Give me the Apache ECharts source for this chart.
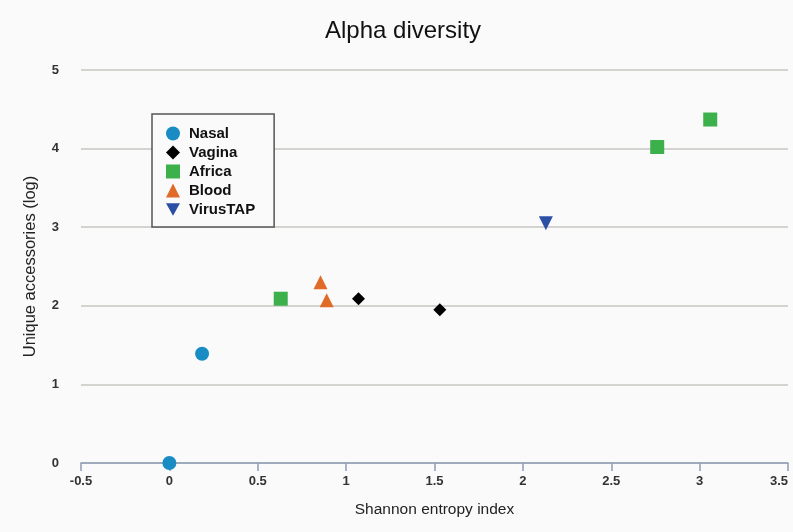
<!DOCTYPE html>
<html>
<head>
<meta charset="utf-8">
<script src="https://cdn.jsdelivr.net/npm/echarts@6/dist/echarts.min.js"></script>
<style>
  html, body { margin: 0; padding: 0; background: #fafafa; }
  #chart { width: 793px; height: 532px; }
</style>
</head>
<body>
<div id="chart"></div>
<script>
// Shannon entropy index (x) vs. unique accessories in log scale (y), per sample group
const nasal    = [[0.0, 0.0], [0.185, 1.39]];
const vagina   = [[1.07, 2.09], [1.53, 1.95]];
const africa   = [[0.63, 2.09], [2.76, 4.02], [3.06, 4.37]];
const blood    = [[0.855, 2.30], [0.89, 2.07]];
const virusTAP = [[2.13, 3.05]];

const xTicks = { min: -0.5, max: 3.5, step: 0.5 };
const yTicks = { min: 0, max: 5, step: 1 };

const FONT = '"Liberation Sans", Arial, Helvetica, sans-serif';
// downward-pointing triangle marker
const DOWN_TRIANGLE = 'path://M0,0 L10,0 L5,9 Z';

const chart = echarts.init(document.getElementById('chart'), null, { renderer: 'canvas' });

function group(name, data, symbol, color, size) {
  return {
    name: name,
    type: 'scatter',
    data: data,
    symbol: symbol,
    symbolSize: size,
    itemStyle: { color: color, opacity: 1 }
  };
}

chart.setOption({
  backgroundColor: '#fafafa',
  animation: false,
  textStyle: { fontFamily: FONT },
  title: {
    text: 'Alpha diversity',
    left: 320,
    top: 14,
    textStyle: { fontFamily: FONT, fontSize: 24, fontWeight: 'normal', color: '#111' }
  },
  grid: { left: 81, right: 5, top: 70, bottom: 69, containLabel: false, outerBoundsMode: 'none' },
  xAxis: {
    type: 'value',
    min: xTicks.min, max: xTicks.max, interval: xTicks.step,
    name: 'Shannon entropy index',
    nameLocation: 'middle',
    nameGap: 39,
    nameTextStyle: { fontFamily: FONT, fontSize: 15.5, color: '#222' },
    axisLine: { show: true, onZero: false, lineStyle: { color: '#8e9db6', width: 1.5 } },
    axisTick: { show: true, length: 8, lineStyle: { color: '#8e9db6', width: 1.5 } },
    axisLabel: { fontFamily: FONT, fontSize: 13, fontWeight: 'bold', color: '#333', margin: 12, alignMaxLabel: 'right' },
    splitLine: { show: false }
  },
  yAxis: {
    type: 'value',
    min: yTicks.min, max: yTicks.max, interval: yTicks.step,
    name: 'Unique accessories (log)',
    nameLocation: 'middle',
    nameGap: 42,
    nameTextStyle: { fontFamily: FONT, fontSize: 16.5, color: '#222' },
    axisLine: { show: false },
    axisTick: { show: false },
    axisLabel: { fontFamily: FONT, fontSize: 13, fontWeight: 'bold', color: '#333', margin: 22 },
    splitLine: { show: true, lineStyle: { color: '#c9c6c2', width: 1.5 } }
  },
  legend: {
    orient: 'vertical',
    left: 152,
    top: 114,
    padding: [12, 19, 10, 14],
    itemGap: 4,
    itemWidth: 14,
    itemHeight: 14,
    borderColor: '#555',
    borderWidth: 1.5,
    backgroundColor: '#fafafa',
    textStyle: { fontFamily: FONT, fontSize: 15, fontWeight: 'bold', color: '#111', lineHeight: 14, padding: [0, 0, 0, 4] },
    data: ['Nasal', 'Vagina', 'Africa', 'Blood', 'VirusTAP']
  },
  series: [
    group('Nasal', nasal, 'circle', '#1a8cc4', 14),
    group('Vagina', vagina, 'diamond', '#000000', 13),
    group('Africa', africa, 'rect', '#3cb04b', 14),
    group('Blood', blood, 'triangle', '#e06a28', 14),
    group('VirusTAP', virusTAP, DOWN_TRIANGLE, '#2c4fa6', 14)
  ]
});
</script>
</body>
</html>
